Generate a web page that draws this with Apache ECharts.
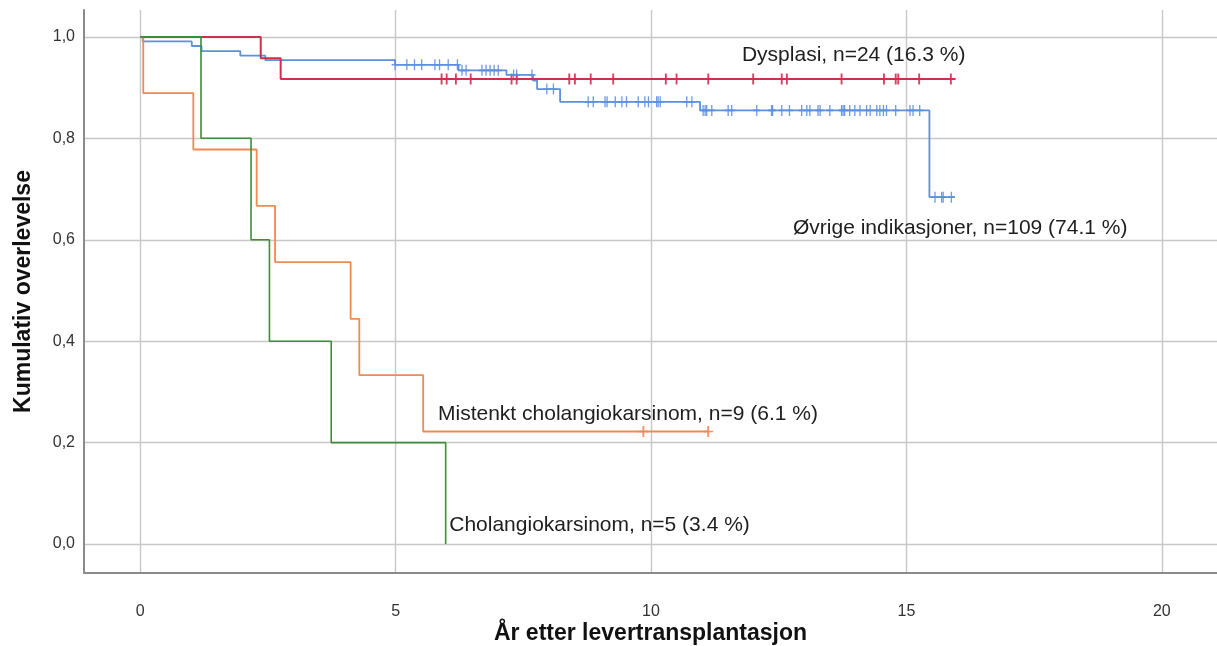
<!DOCTYPE html>
<html>
<head>
<meta charset="utf-8">
<script src="https://cdn.jsdelivr.net/npm/echarts@6/dist/echarts.min.js"></script>
<style>
html,body{margin:0;padding:0;background:#fff;}
#chart{width:1217px;height:646px;}
</style>
</head>
<body>
<div id="chart"></div>
<script>
// Tick labels
const xTicks = [0, 5, 10, 15, 20];
const yTicks = [0, 0.2, 0.4, 0.6, 0.8, 1.0];

// Group names
const groupNames = [
  'Øvrige indikasjoner, n=109 (74.1 %)',
  'Dysplasi, n=24 (16.3 %)',
  'Mistenkt cholangiokarsinom, n=9 (6.1 %)',
  'Cholangiokarsinom, n=5 (3.4 %)'
];

// Kaplan-Meier step curves: [time, survival after time]
const ovrigeCurve = [[0,1],[0.05,0.991],[1.01,0.982],[1.2,0.972],[1.96,0.963],[2.45,0.954],[4.99,0.945],[6.23,0.934],[7.17,0.925],[7.69,0.914],[7.77,0.897],[8.22,0.872],[10.96,0.855],[15.45,0.684],[15.95,0.684]];
const dysplasiCurve = [[0,1],[2.36,0.958],[2.75,0.917],[15.95,0.917]];
const mistenktCurve = [[0,1],[0.06,0.889],[1.04,0.778],[2.28,0.667],[2.64,0.556],[4.12,0.444],[4.29,0.333],[5.54,0.222],[11.12,0.222]];
const cholangioCurve = [[0,1],[1.19,0.8],[2.17,0.6],[2.53,0.4],[3.74,0.2],[5.98,0]];

// Censoring times
const ovrigeCensor = [4.99,5.22,5.37,5.51,5.77,5.86,6.03,6.21,6.30,6.38,6.69,6.77,6.85,6.93,7.01,7.31,7.37,7.67,7.96,8.09,8.77,8.87,9.10,9.14,9.30,9.43,9.52,9.75,9.88,9.95,10.11,10.14,10.18,10.70,10.80,11.02,11.06,11.09,11.19,11.51,11.58,12.07,12.36,12.38,12.56,12.71,12.95,13.05,13.11,13.27,13.31,13.50,13.73,13.76,13.79,13.89,13.99,14.09,14.22,14.29,14.42,14.48,14.55,14.61,14.79,15.07,15.13,15.26,15.56,15.69,15.72,15.88];
const dysplasiCensor = [5.90,6.00,6.18,6.47,7.27,7.37,8.40,8.51,8.82,9.26,10.29,10.50,11.12,12.00,12.56,12.66,13.73,14.56,14.79,14.84,15.25,15.87];
const mistenktCensor = [9.85, 11.12];

const colors = ['#5E90E0', '#D12E4E', '#F08A55', '#3F8C3A'];
const FONT = '"Liberation Sans", Arial, sans-serif';

// survival level of a step curve at a given time
function levelAt(curve, t) {
  let s = curve[0][1];
  for (const p of curve) { if (p[0] <= t) s = p[1]; }
  return s;
}
function censorPoints(curve, times) {
  return times.map(t => [t, levelAt(curve, t)]);
}

const crossPath = 'path://M3.25,0h1.5v10h-1.5z M0,4.25h8v1.5h-8z';

function lineSeries(name, curve, color, width, labelCoord) {
  return {
    name: name, type: 'line', step: 'end', data: curve,
    showSymbol: false, symbol: 'none', silent: true,
    lineStyle: {color: color, width: width},
    itemStyle: {color: color},
    markPoint: {
      silent: true, symbol: 'circle', symbolSize: 0, animation: false,
      label: {show: true, position: 'right', distance: 0, formatter: name,
        fontSize: 21, color: '#1e1e1e', fontFamily: FONT},
      data: [{coord: labelCoord}]
    }
  };
}
function censorSeries(points, color, size) {
  return {
    type: 'scatter', data: points, symbol: crossPath, symbolSize: size,
    silent: true, itemStyle: {color: color, opacity: 0.9}
  };
}

const chart = echarts.init(document.getElementById('chart'));
chart.setOption({
  animation: false,
  backgroundColor: '#fff',
  grid: {left: 84, top: 10, right: 0, bottom: 73, containLabel: false, outerBoundsMode: 'none'},
  xAxis: {
    type: 'value', min: -1.1, max: 21.08,
    name: 'År etter levertransplantasjon', nameLocation: 'middle', nameGap: 49,
    nameMoveOverlap: false,
    nameTextStyle: {fontSize: 23, fontWeight: 'bold', color: '#111', fontFamily: FONT},
    axisLine: {show: true, onZero: false, lineStyle: {color: '#8a8a8a', width: 2}},
    axisTick: {show: false, customValues: xTicks},
    axisLabel: {customValues: xTicks, margin: 31, fontSize: 16, color: '#333', fontFamily: FONT},
    splitLine: {show: true, lineStyle: {color: '#c8c8c8', width: 1.4}}
  },
  yAxis: {
    type: 'value', min: -0.057, max: 1.053,
    name: 'Kumulativ overlevelse', nameLocation: 'middle', nameGap: 49,
    nameMoveOverlap: false,
    nameTextStyle: {fontSize: 23, fontWeight: 'bold', color: '#111', fontFamily: FONT},
    axisLine: {show: true, onZero: false, lineStyle: {color: '#8a8a8a', width: 2}},
    axisTick: {show: false, customValues: yTicks},
    axisLabel: {customValues: yTicks, margin: 9, fontSize: 16, color: '#333', fontFamily: FONT,
      formatter: v => v.toFixed(1).replace('.', ',')},
    splitLine: {show: true, lineStyle: {color: '#c8c8c8', width: 1.4}}
  },
  series: [
    lineSeries(groupNames[0], ovrigeCurve, colors[0], 1.8, [12.78, 0.623]),
    censorSeries(censorPoints(ovrigeCurve, ovrigeCensor), colors[0], [7, 11]),
    lineSeries(groupNames[1], dysplasiCurve, colors[1], 2, [11.78, 0.964]),
    censorSeries(censorPoints(dysplasiCurve, dysplasiCensor), colors[1], [10, 11]),
    lineSeries(groupNames[2], mistenktCurve, colors[2], 1.8, [5.83, 0.256]),
    censorSeries(censorPoints(mistenktCurve, mistenktCensor), colors[2], [10, 11]),
    lineSeries(groupNames[3], cholangioCurve, colors[3], 1.6, [6.05, 0.037])
  ]
});
</script>
</body>
</html>
